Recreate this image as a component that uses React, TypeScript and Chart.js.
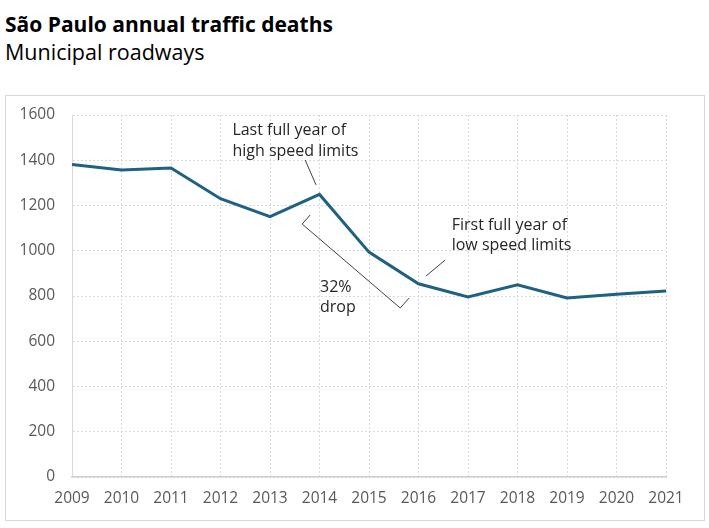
import React, { useEffect, useRef } from "react";
import { Chart, registerables } from "chart.js";

Chart.register(...registerables);

const years = ["2009", "2010", "2011", "2012", "2013", "2014", "2015", "2016", "2017", "2018", "2019", "2020", "2021"];
const deaths = [1381, 1357, 1366, 1230, 1151, 1249, 994, 854, 796, 849, 791, 808, 822];
const yMin = 0;
const yMax = 1600;
const yStep = 200;

const titleText = "São Paulo annual traffic deaths";
const subtitleText = "Municipal roadways";

// annotation anchors in data units: [category index, value]
const noteHigh = ["Last full year of", "high speed limits"];
const noteHighAt: [number, number][] = [[3.24, 1532], [3.24, 1440]];
const noteHighLeader: [number, number][] = [[4.71, 1401], [4.93, 1291]];
const noteLow = ["First full year of", "low speed limits"];
const noteLowAt: [number, number][] = [[7.67, 1111], [7.67, 1024]];
const noteLowLeader: [number, number][] = [[7.54, 959], [7.15, 888]];
const noteDrop = ["32%", "drop"];
const noteDropAt: [number, number][] = [[5.01, 836], [5.01, 750]];
const dropBracket: [number, number][] = [[4.81, 1158], [4.65, 1118], [6.63, 747], [6.81, 791]];

const FONT = "'Open Sans', sans-serif";

const notesPlugin = {
  id: "notes",
  afterDatasetsDraw(chart: any) {
    const { ctx } = chart;
    const xs = chart.scales.x;
    const ys = chart.scales.y;
    const P = (p: [number, number]) => [xs.getPixelForValue(p[0]), ys.getPixelForValue(p[1])];
    ctx.save();
    ctx.fillStyle = "#262626";
    ctx.font = `16px ${FONT}`;
    ctx.textAlign = "left";
    ctx.textBaseline = "middle";
    const drawText = (lines: string[], at: [number, number][]) => {
      lines.forEach((t, i) => {
        const [px, py] = P(at[i]);
        ctx.fillText(t, px, py);
      });
    };
    drawText(noteHigh, noteHighAt);
    drawText(noteLow, noteLowAt);
    drawText(noteDrop, noteDropAt);
    ctx.strokeStyle = "#404040";
    ctx.lineWidth = 1;
    const poly = (pts: [number, number][]) => {
      ctx.beginPath();
      pts.forEach((p, i) => {
        const [px, py] = P(p);
        if (i === 0) ctx.moveTo(px, py);
        else ctx.lineTo(px, py);
      });
      ctx.stroke();
    };
    poly(noteHighLeader);
    poly(noteLowLeader);
    poly(dropBracket);
    ctx.restore();
  },
};

export default function App() {
  const ref = useRef<HTMLCanvasElement | null>(null);
  useEffect(() => {
    if (!ref.current) return;
    const chart = new Chart(ref.current, {
      type: "line",
      data: {
        labels: years,
        datasets: [
          {
            data: deaths,
            borderColor: "#1f6182",
            borderWidth: 3,
            pointRadius: 0,
            tension: 0,
            fill: false,
          },
        ],
      },
      options: {
        responsive: false,
        animation: false,
        devicePixelRatio: 1,
        layout: { padding: { left: 0, right: 43, top: 115, bottom: 0 } },
        plugins: { legend: { display: false }, tooltip: { enabled: false }, title: { display: false } },
        scales: {
          x: {
            offset: false,
            grid: { color: "#d9d9d9", lineWidth: 1, drawTicks: false },
            border: { display: true, color: "#cfcfcf", width: 1.5, dash: [2, 2] },
            ticks: { color: "#595959", font: { family: FONT, size: 15.5 }, padding: 12, maxRotation: 0, autoSkip: false },
            afterFit: (s: any) => {
              s.height = 51;
            },
          },
          y: {
            min: yMin,
            max: yMax,
            grid: { color: "#d9d9d9", lineWidth: 1, drawTicks: false },
            border: { display: true, color: "#d9d9d9", width: 1, dash: [2, 2] },
            ticks: {
              stepSize: yStep,
              color: "#595959",
              font: { family: FONT, size: 15.5 },
              padding: 17,
              callback: (v: any) => String(v),
            },
            afterFit: (s: any) => {
              s.width = 72;
            },
          },
        },
      },
      plugins: [notesPlugin],
    });
    return () => chart.destroy();
  }, []);

  return (
    <div style={{ position: "absolute", left: 0, top: 0, width: 709, height: 528, background: "#fff", overflow: "hidden" }}>
      <div style={{ position: "absolute", left: 5, top: 10, fontFamily: FONT, fontWeight: 700, fontSize: 21, color: "#000", whiteSpace: "nowrap", lineHeight: "28px" }}>
        {titleText}
      </div>
      <div style={{ position: "absolute", left: 5, top: 38, fontFamily: FONT, fontWeight: 400, fontSize: 21.5, color: "#000", whiteSpace: "nowrap", lineHeight: "28px" }}>
        {subtitleText}
      </div>
      <div style={{ position: "absolute", left: 5, top: 95, width: 700, height: 426, border: "1px solid #d9d9d9", boxSizing: "border-box" }} />
      <canvas ref={ref} width={709} height={528} style={{ position: "absolute", left: 0, top: 0, width: 709, height: 528 }} />
    </div>
  );
}
